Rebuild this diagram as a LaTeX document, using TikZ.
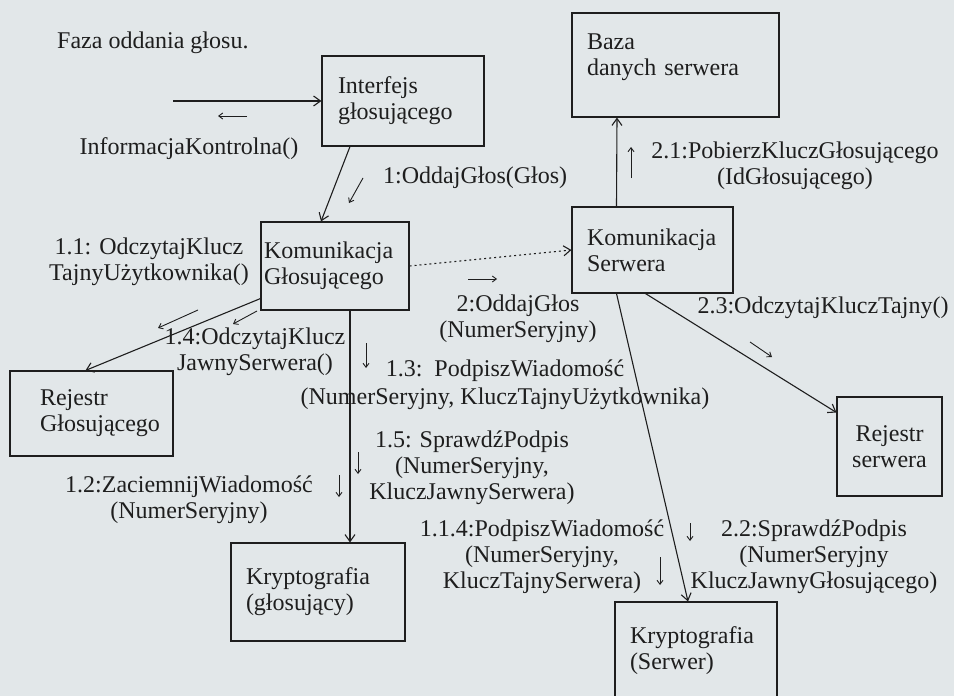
\documentclass[tikz,border=0pt]{standalone}
\usepackage{fontspec}
\setmainfont{Liberation Serif}
\usetikzlibrary{arrows.meta}
\definecolor{paper}{RGB}{226,231,233}
\definecolor{ink}{RGB}{30,30,30}
\begin{document}
\begin{tikzpicture}[x=1pt,y=-1pt,
    every node/.style={font=\fontsize{24}{26}\selectfont, text=ink},
    obj/.style={draw=ink, line width=1.1pt, rectangle, align=left},
    lbl/.style={align=center, inner sep=0pt},
    link/.style={draw=ink, line width=1.1pt, -{Straight Barb[length=7pt,width=10pt]}},
    msg/.style={draw=ink, line width=0.9pt, -{Straight Barb[length=4pt,width=6pt]}}]
  \useasboundingbox (0,0) rectangle (954,696);
  \clip (0,0) rectangle (954,696);
  \fill[paper] (0,0) rectangle (954,696);

  \node[obj, minimum height=90pt, text width=130pt, inner xsep=16pt] (intf) at (403,101) {Interfejs\\głosującego};
  \node[obj, minimum height=104pt, text width=177pt, inner xsep=15pt] (baza) at (675.5,65) {Baza\\danych serwera\\[-6pt]\mbox{}};
  \node[obj, minimum height=86pt, text width=131pt, inner xsep=15pt] (kserw) at (652.5,250) {Komunikacja\\Serwera};
  \node[obj, minimum height=88pt, text width=142pt, inner xsep=3pt] (kglos) at (335,266) {Komunikacja\\Głosującego};
  \node[obj, minimum height=85pt, text width=103pt, inner xsep=30pt] (rglos) at (91.5,413.5) {Rejestr\\Głosującego};
  \node[obj, minimum height=98pt, text width=144pt, inner xsep=15pt] (krglos) at (318,592) {Kryptografia\\(głosujący)};
  \node[obj, minimum height=98pt, text width=132pt, inner xsep=15pt] (krserw) at (696,651) {Kryptografia\\(Serwer)};
  \node[obj, align=center, minimum height=99pt, text width=85pt, inner xsep=10pt] (rserw) at (889.5,446.5) {Rejestr\\serwera};

  \node[lbl, anchor=west] (title) at (57,43) {Faza oddania głosu.};
  \node[lbl] (linfo) at (189,149) {InformacjaKontrolna()};
  \node[lbl, anchor=west] (l1) at (383,178) {1:OddajGłos(Głos)};
  \node[lbl] (l21) at (795,166) {2.1:PobierzKluczGłosującego\\(IdGłosującego)};
  \node[lbl] (l11) at (149,262) {1.1: OdczytajKlucz\\TajnyUżytkownika()};
  \node[lbl] (l2) at (518,319) {2:OddajGłos\\(NumerSeryjny)};
  \node[lbl] (l14) at (255,352) {1.4:OdczytajKlucz\\JawnySerwera()};
  \node[lbl] (l13) at (505,385) {1.3:\ \ PodpiszWiadomość\\[2pt](NumerSeryjny, KluczTajnyUżytkownika)};
  \node[lbl] (l23) at (823,308) {2.3:OdczytajKluczTajny()};
  \node[lbl] (l15) at (472,468) {1.5: SprawdźPodpis\\(NumerSeryjny,\\KluczJawnySerwera)};
  \node[lbl] (l12) at (189,500) {1.2:ZaciemnijWiadomość\\(NumerSeryjny)};
  \node[lbl] (l114) at (542,557) {1.1.4:PodpiszWiadomość\\(NumerSeryjny,\\KluczTajnySerwera)};
  \node[lbl] (l22) at (814,557) {2.2:SprawdźPodpis\\(NumerSeryjny\\KluczJawnyGłosującego)};

  \coordinate (start) at (173,101);
  \draw[link] (start) -- (intf.west);
  \draw[link] ([xshift=-53pt]intf.south) -- ([xshift=-14pt]kglos.north);
  \draw[link, dash pattern=on 2pt off 3pt] (kglos.east) -- (kserw.west);
  \draw[link] ([yshift=12pt]kglos.south west) -- ([xshift=-6pt]rglos.north);
  \draw[link] ([xshift=15pt]kglos.south) -- ([xshift=32pt]krglos.north);
  \draw[link] ([xshift=-36pt]kserw.north) -- ([xshift=-58.5pt]baza.south);
  \draw[link] ([xshift=-36pt]kserw.south) -- ([xshift=-8pt]krserw.north);
  \draw[link] ([xshift=-7pt]kserw.south) -- ([yshift=34pt]rserw.west);

  \foreach \xa/\ya/\xb/\yb in {247/116/218/116, 363/178/349/203, 198/310/158/328,
      257/311/233/324, 366/343/366/368, 358/452/358/474, 339/475/339/497,
      631/178/631/147, 468/279/497/279, 750/342/772/357, 690/523/690/541,
      660/557/660/585}
    \draw[msg] (\xa,\ya) -- (\xb,\yb);
\end{tikzpicture}
\end{document}
